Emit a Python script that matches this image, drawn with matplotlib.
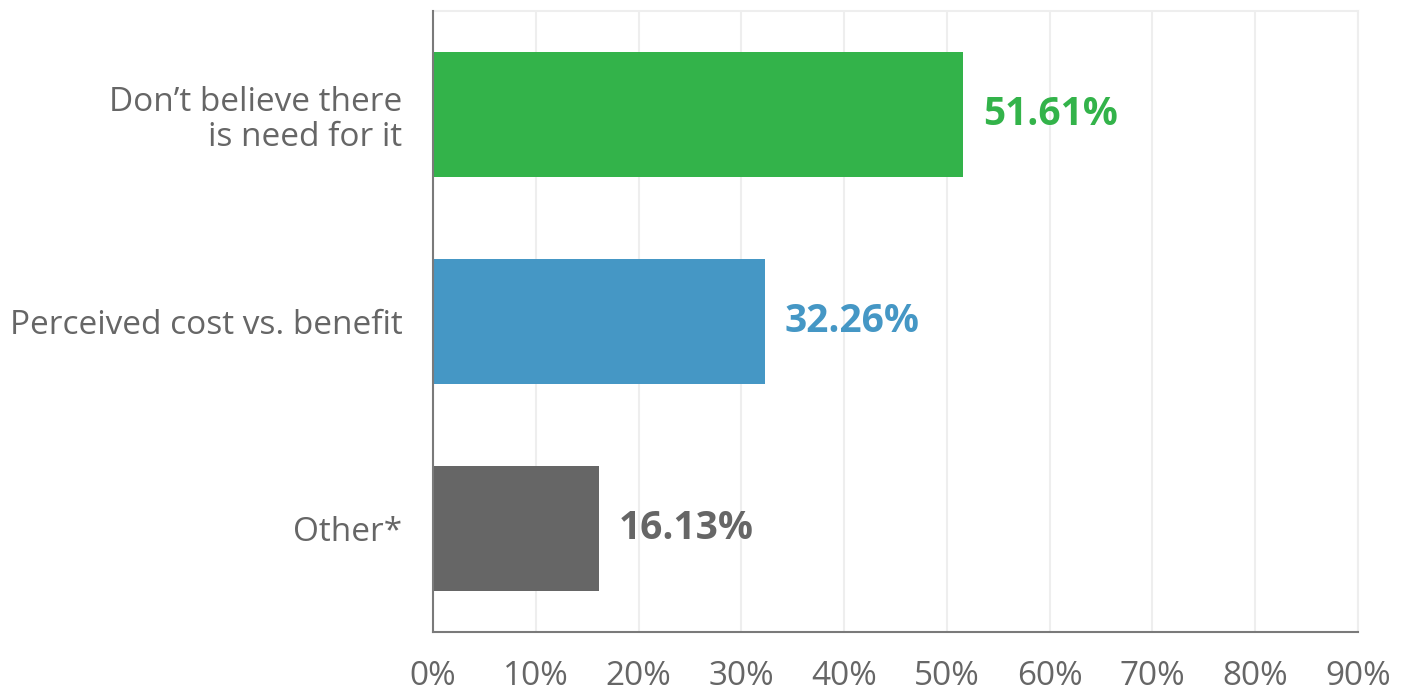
import matplotlib
matplotlib.use("Agg")
from matplotlib import pyplot as plt

categories = ["Don\u2019t believe there\nis need for it", "Perceived cost vs. benefit", "Other*"]
values = [51.61, 32.26, 16.13]
colors = ["#33b34a", "#4597c5", "#666666"]
xticks = [0, 10, 20, 30, 40, 50, 60, 70, 80, 90]

plt.rcParams['font.family'] = ['Open Sans', 'DejaVu Sans']
text_gray = "#666666"

fig = plt.figure(figsize=(14.14, 6.92), dpi=100)
ax = fig.add_axes([0.3062, 0.0867, 0.6542, 0.8974])

ypos = list(range(len(categories)))
ax.barh(ypos, values, height=0.6, color=colors, zorder=3)
for y, v, c in zip(ypos, values, colors):
    ax.text(v + 1.9, y, f"{v:.2f}%", color=c, fontsize=28, fontweight='bold',
            va='center', ha='left', zorder=4)

ax.set_ylim(2.5, -0.5)
ax.set_xlim(0, 90)
ax.set_yticks(ypos)
ax.set_yticklabels(categories, fontsize=24, color=text_gray, ha='right', linespacing=1.1)
ax.set_xticks(xticks)
ax.set_xticklabels([f"{t}%" for t in xticks], fontsize=24, color=text_gray)
ax.tick_params(axis='y', length=0, pad=22)
ax.tick_params(axis='x', length=0, pad=20)

ax.grid(axis='x', color='#eeeeee', linewidth=1.5, zorder=0)
for s in ['top', 'right']:
    ax.spines[s].set_color('#eeeeee')
    ax.spines[s].set_linewidth(1.5)
for s in ['left', 'bottom']:
    ax.spines[s].set_color('#7a7a7a')
    ax.spines[s].set_linewidth(1.5)
    ax.spines[s].set_zorder(5)

fig.savefig("out.png", dpi=100, facecolor='white')
